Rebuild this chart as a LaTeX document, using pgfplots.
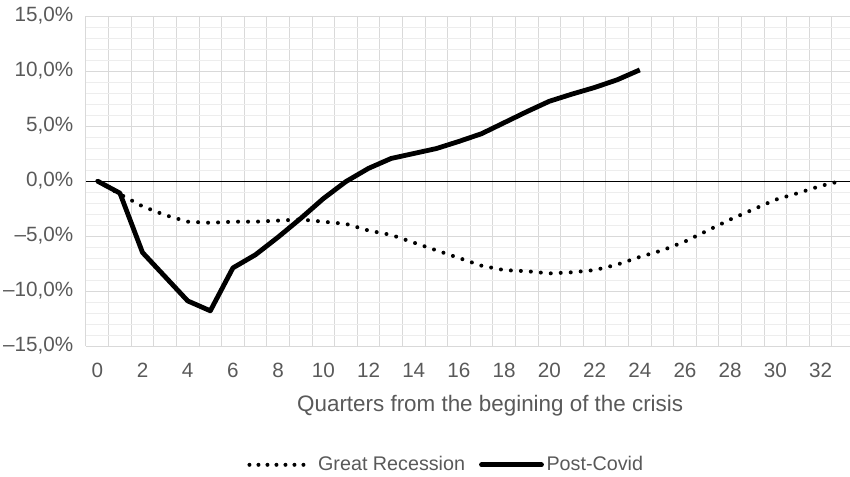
\documentclass[border=0pt]{standalone}
\usepackage{pgfplots}
\pgfplotsset{compat=1.18}
\usepackage{fontspec}
\setmainfont{Liberation Sans}
\definecolor{txt}{HTML}{595959}
\definecolor{gmaj}{HTML}{D9D9D9}
\definecolor{gmin}{HTML}{EDEDED}
\begin{document}
\begin{tikzpicture}
\useasboundingbox (-64.5pt,-97.5pt) rectangle (573pt,259.5pt);
\begin{axis}[
  at={(0pt,0pt)}, anchor=south west,
  scale only axis, width=573pt, height=247.5pt,
  xmin=-0.5, xmax=33.3, ymin=-15, ymax=15,
  font=\fontsize{15.5pt}{18pt}\selectfont,
  axis line style={gmaj, line width=0.75pt},
  axis x line*=bottom, axis y line*=left,
  major tick length=0pt, minor tick length=0pt,
  xtick={-0.5,0.5,1.5,2.5,3.5,4.5,5.5,6.5,7.5,8.5,9.5,10.5,11.5,12.5,13.5,14.5,15.5,16.5,17.5,18.5,19.5,20.5,21.5,22.5,23.5,24.5,25.5,26.5,27.5,28.5,29.5,30.5,31.5,32.5,33.5},
  xticklabels={},
  xmajorgrids,
  extra x ticks={0,2,4,6,8,10,12,14,16,18,20,22,24,26,28,30,32},
  extra x tick labels={0,2,4,6,8,10,12,14,16,18,20,22,24,26,28,30,32},
  extra x tick style={grid=none, xticklabel style={yshift=-9pt, text depth=0pt, text height=11pt}},
  ytick={-15,-10,-5,0,5,10,15},
  yticklabels={{–15,0\%},{–10,0\%},{–5,0\%},{0,0\%},{5,0\%},{10,0\%},{15,0\%}},
  minor ytick={-14,-13,-12,-11,-9,-8,-7,-6,-4,-3,-2,-1,1,2,3,4,6,7,8,9,11,12,13,14},
  ymajorgrids, yminorgrids,
  major grid style={gmaj, line width=0.75pt},
  minor grid style={gmin, line width=0.75pt},
  tick label style={txt},
  yticklabel style={xshift=-6pt},
  xlabel={Quarters from the begining of the crisis},
  xlabel style={txt, font=\fontsize{16.8pt}{20pt}\selectfont, at={(axis description cs:0.529,0)}, anchor=center, yshift=-45pt},
  legend columns=2,
  legend style={draw=none, fill=none, at={(axis description cs:0.472,-0.36)}, anchor=center, text=txt,
    font=\fontsize{14.8pt}{18pt}\selectfont,
    /tikz/every even column/.append style={column sep=8.5pt}},
]
\addplot[black, line width=0.6pt, forget plot] coordinates {(-0.5,0) (33.5,0)};
\addplot[black, line width=3pt, line cap=round, dash pattern=on 0pt off 7.5pt,
  legend image code/.code={\draw[black, line width=3pt, line cap=round, dash pattern=on 0pt off 6.75pt] (0pt,0pt) -- (41pt,0pt); \path[draw=none] (49.5pt,0pt) circle (0pt);}] coordinates {
(0,0) (1,-1.2) (2,-2.3) (3,-3.1) (4,-3.7) (5,-3.8) (6,-3.7) (7,-3.7) (8,-3.6) (9,-3.5)
(10,-3.7) (11,-3.9) (12,-4.5) (13,-4.9) (14,-5.6) (15,-6.3) (16,-7.0) (17,-7.7) (18,-8.1)
(19,-8.2) (20,-8.4) (21,-8.3) (22,-8.1) (23,-7.6) (24,-6.9) (25,-6.3) (26,-5.5) (27,-4.5)
(28,-3.5) (29,-2.6) (30,-1.7) (31,-1.1) (32,-0.45) (33,0.05)};
\addlegendentry{Great Recession}
\addplot[black, line width=3.6pt, line join=round,
  legend image code/.code={\draw[black, line width=3.6pt, line cap=round] (0pt,0pt) -- (45pt,0pt);}] coordinates {
(0,0) (1,-1.1) (2,-6.5) (3,-8.7) (4,-10.9) (5,-11.8) (6,-7.9) (7,-6.7) (8,-5.1) (9,-3.4)
(10,-1.6) (11,-0.05) (12,1.15) (13,2.05) (14,2.5) (15,2.95) (16,3.6) (17,4.3) (18,5.3)
(19,6.3) (20,7.25) (21,7.9) (22,8.5) (23,9.2) (24,10.1)};
\addlegendentry{Post-Covid}
\end{axis}
\end{tikzpicture}
\end{document}
